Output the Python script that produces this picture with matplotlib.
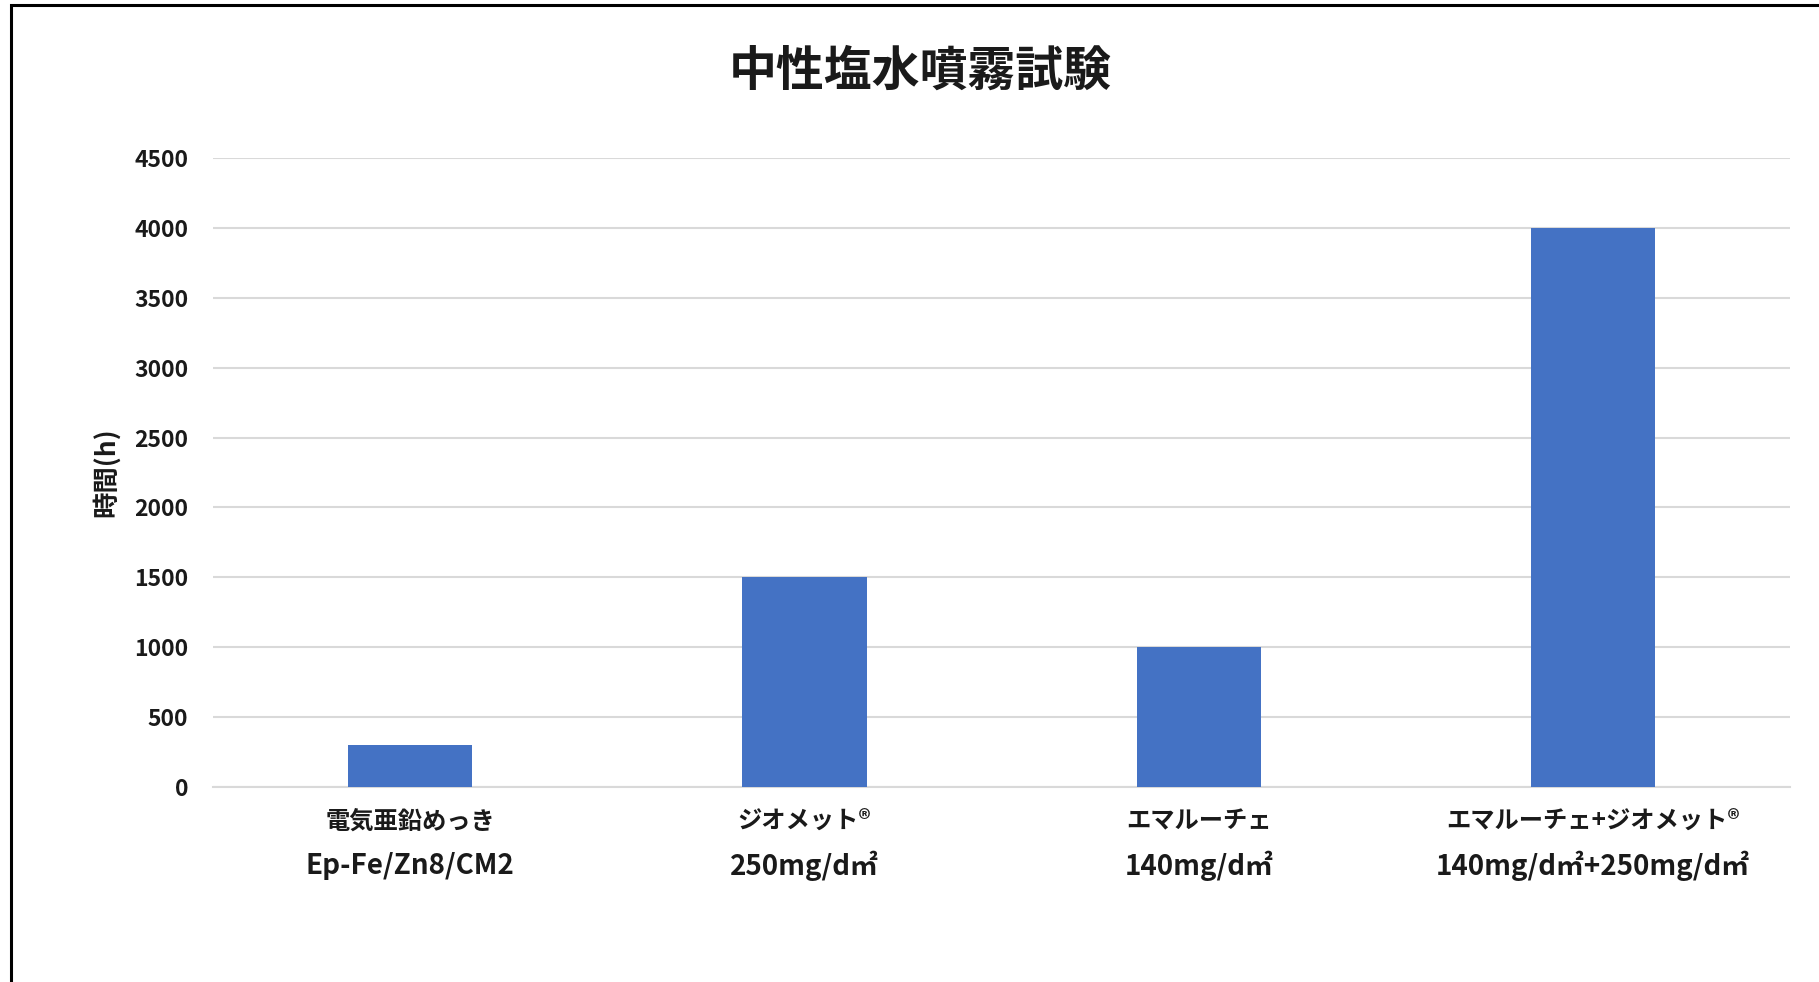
import matplotlib
matplotlib.use("Agg")
import matplotlib.pyplot as plt
from matplotlib.patches import Rectangle

plt.rcParams['font.family'] = ['Noto Sans CJK JP', 'DejaVu Sans']

# data
names = ["電気亜鉛めっき", "ジオメット®", "エマルーチェ", "エマルーチェ+ジオメット®"]
specs = ["Ep-Fe/Zn8/CM2", "250mg/d㎡", "140mg/d㎡", "140mg/d㎡+250mg/d㎡"]
hours = [300, 1500, 1000, 4000]
yticks = [0, 500, 1000, 1500, 2000, 2500, 3000, 3500, 4000, 4500]

txt = "#1a1a1a"
grid = "#d9d9d9"

fig = plt.figure(figsize=(18.19, 9.82), dpi=100)
ax = fig.add_axes([0.1171, 0.1989, 0.867, 0.6397])

x = list(range(len(names)))
ax.bar(x, hours, width=0.315, color="#4472c4", zorder=3)

ax.set_xlim(-0.5, len(names) - 0.5)
ax.set_ylim(0, 4500)
ax.set_yticks(yticks)
ax.set_yticklabels([str(v) for v in yticks], fontsize=16.5, fontweight="bold", color=txt)
ax.tick_params(axis="y", length=0, pad=18)
ax.set_xticks([])
ax.yaxis.grid(True, color=grid, linewidth=1.5, zorder=0)
for s in ["top", "right", "left"]:
    ax.spines[s].set_visible(False)
ax.spines["bottom"].set_color(grid)
ax.spines["bottom"].set_linewidth(1.5)

tr = ax.get_xaxis_transform()
for i in x:
    ax.text(i, -0.056, names[i], transform=tr, ha="center", va="center",
            fontsize=17.5, fontweight="bold", color=txt)
    ax.text(i, -0.126, specs[i], transform=tr, ha="center", va="center",
            fontsize=20, fontweight="bold", color=txt)

ax.set_ylabel("時間(h)", fontsize=19, fontweight="bold", color=txt, labelpad=10)

fig.text(0.506, 0.928, "中性塩水噴霧試験", ha="center", va="center",
         fontsize=34.5, fontweight="bold", color=txt)

# outer frame (cut off at right and bottom)
fig.patches.append(Rectangle((0.006, -0.2), 1.5, 1.195, transform=fig.transFigure,
                             fill=False, edgecolor="black", linewidth=2.2))

fig.savefig("out.png", dpi=100)
